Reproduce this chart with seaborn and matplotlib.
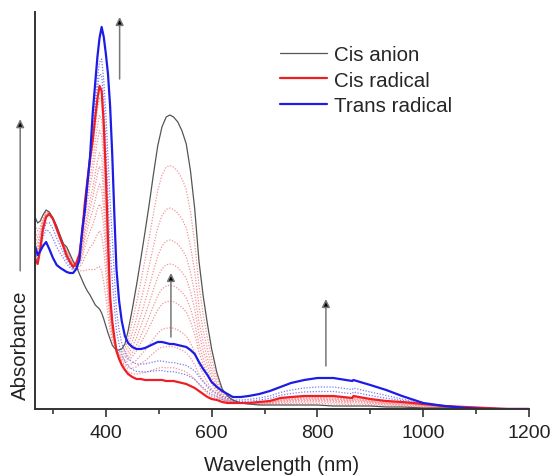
import numpy as np
import pandas as pd
import matplotlib
matplotlib.use("Agg")
import matplotlib.pyplot as plt
import seaborn as sns

# Wavelength grid (nm) shared by the three measured spectra
wavelength = [266, 271, 276, 281, 287, 293, 300, 307, 314, 320, 326, 332, 338, 344,
              350, 355, 360, 365, 370, 375, 380, 384, 388, 392, 396, 400, 404, 408,
              412, 416, 420, 425, 430, 436, 442, 450, 458, 466, 474, 482, 490, 498,
              506, 514, 521, 528, 536, 544, 552, 560, 568, 576, 584, 592, 600, 610,
              620, 630, 640, 655, 670, 690, 710, 730, 750, 775, 800, 830, 866, 868,
              900, 930, 960, 1000, 1040, 1080, 1120, 1160, 1200]

# Absorbance (arbitrary units)
cis_anion = [192, 186, 188, 194, 199, 197, 191, 183, 173, 165, 162, 155, 148, 143,
             135, 129, 123, 118, 114, 109, 104, 102, 100, 96, 90, 83, 76, 70,
             64, 61, 59, 59, 60, 65, 78, 100, 124, 150, 177, 205, 235, 263,
             282, 292, 294, 292, 287, 278, 265, 238, 200, 148, 113, 85, 60, 36,
             20, 13, 9, 6, 5, 4, 4, 4, 4, 4, 4, 3, 3, 3,
             3, 2, 2, 1, 1, 1, 0, 0, 0]

cis_radical = [150, 145, 160, 180, 192, 195, 190, 180, 170, 162, 153, 147, 142, 146,
               155, 175, 205, 228, 250, 268, 292, 310, 323, 318, 285, 235, 170, 113,
               88, 72, 58, 50, 44, 39, 35, 32, 30, 30, 29, 29, 29, 29,
               29, 28, 28, 28, 27, 26, 25, 23, 21, 18, 15, 12, 10, 9,
               7, 6, 6, 6, 6, 7, 8, 11, 12, 13, 13, 13, 11, 13,
               10, 8, 7, 5, 3, 2, 1, 0, 0]

trans_radical = [163, 154, 158, 163, 167, 160, 151, 144, 141, 139, 137, 136, 136, 140,
                 149, 178, 197, 225, 252, 295, 327, 352, 371, 382, 372, 355, 335, 303,
                 255, 195, 140, 108, 88, 73, 66, 62, 60, 60, 61, 63, 65, 67,
                 67, 66, 65, 65, 64, 63, 62, 59, 55, 47, 40, 34, 27, 22,
                 18, 15, 12, 12, 13, 15, 18, 22, 26, 29, 31, 31, 28, 29,
                 24, 19, 13, 6, 3, 1, 0, 0, 0]

# Intermediate traces during the titration (share of the end spectrum in each step)
anion_to_radical_steps = [0.19, 0.35, 0.47, 0.56, 0.64, 0.70, 0.80, 0.87, 0.95]
radical_to_trans_steps = [0.25, 0.50]

legend_labels = ["Cis anion", "Cis radical", "Trans radical"]
x_ticks = [400, 600, 800, 1000, 1200]

wl = np.array(wavelength, dtype=float)
anion = np.array(cis_anion, dtype=float)
cisr = np.array(cis_radical, dtype=float)
trans = np.array(trans_radical, dtype=float)

sns.set_theme(style="ticks")
plt.rcParams["font.family"] = ["Liberation Sans", "DejaVu Sans"]

fig = plt.figure(figsize=(5.54, 4.77), dpi=100)
ax = fig.add_axes([35 / 554, 1 - 410 / 477, 494 / 554, 397 / 477])

RED = "#ee1f24"
BLUE = "#1c1ce6"
GREY = "#555555"

# dotted intermediate spectra
for f in anion_to_radical_steps:
    sns.lineplot(x=wl, y=(1 - f) * anion + f * cisr, ax=ax, color="#f29496",
                 linewidth=0.9, linestyle=(0, (1, 1.3)), estimator=None, sort=False)
for f in radical_to_trans_steps:
    sns.lineplot(x=wl, y=(1 - f) * cisr + f * trans, ax=ax, color="#7b7bf0",
                 linewidth=0.9, linestyle=(0, (1, 1.3)), estimator=None, sort=False)

# end-point spectra
frame = pd.DataFrame({"wl": wl, "anion": anion, "cisr": cisr, "trans": trans})
sns.lineplot(data=frame, x="wl", y="anion", ax=ax, color=GREY, linewidth=0.9,
             label=legend_labels[0], estimator=None, sort=False)
sns.lineplot(data=frame, x="wl", y="cisr", ax=ax, color=RED, linewidth=1.6,
             label=legend_labels[1], estimator=None, sort=False)
sns.lineplot(data=frame, x="wl", y="trans", ax=ax, color=BLUE, linewidth=1.6,
             label=legend_labels[2], estimator=None, sort=False)

ax.set_xlim(266, 1200)
ax.set_ylim(0, 397)
ax.set_xticks(x_ticks)
ax.set_xticks(np.arange(300, 1200, 200), minor=True)
ax.set_yticks([])
ax.tick_params(axis="x", which="major", length=6, width=1.1, direction="out",
               labelsize=14, pad=5, colors="#222222")
ax.tick_params(axis="x", which="minor", length=3.5, width=1.1, direction="out")
for side in ("top", "right"):
    ax.spines[side].set_visible(False)
for side in ("left", "bottom"):
    ax.spines[side].set_linewidth(1.4)
    ax.spines[side].set_color("#333333")
ax.set_xlabel("Wavelength (nm)", fontsize=14.8, labelpad=10, color="#222222")
ax.set_ylabel("")
fig.text(20 / 554, 1 - 345 / 477, "Absorbance", rotation=90, ha="center",
         va="center", fontsize=14.8, color="#222222")

# direction-of-change arrows
arrow_kw = dict(arrowstyle="-|>", ec="#777777", fc="black", lw=1.1,
                mutation_scale=12, shrinkA=0, shrinkB=0)
ax.annotate("", xy=(426, 392), xytext=(426, 330), arrowprops=arrow_kw)
ax.annotate("", xy=(523, 136), xytext=(523, 72), arrowprops=arrow_kw)
ax.annotate("", xy=(816, 110), xytext=(816, 43), arrowprops=arrow_kw)
ax.annotate("", xy=(-0.030, 0.73), xytext=(-0.030, 0.348), xycoords="axes fraction",
            textcoords="axes fraction", arrowprops=arrow_kw, annotation_clip=False)

leg = ax.legend(loc="upper left", bbox_to_anchor=(0.496, 0.917), frameon=False,
                fontsize=14.8, handlelength=2.3, handletextpad=0.35,
                labelspacing=0.32, borderpad=0, borderaxespad=0)
for line in leg.get_lines():
    line.set_linewidth(1.6 if line.get_color() != GREY else 0.9)

fig.savefig("out.png", dpi=100)
